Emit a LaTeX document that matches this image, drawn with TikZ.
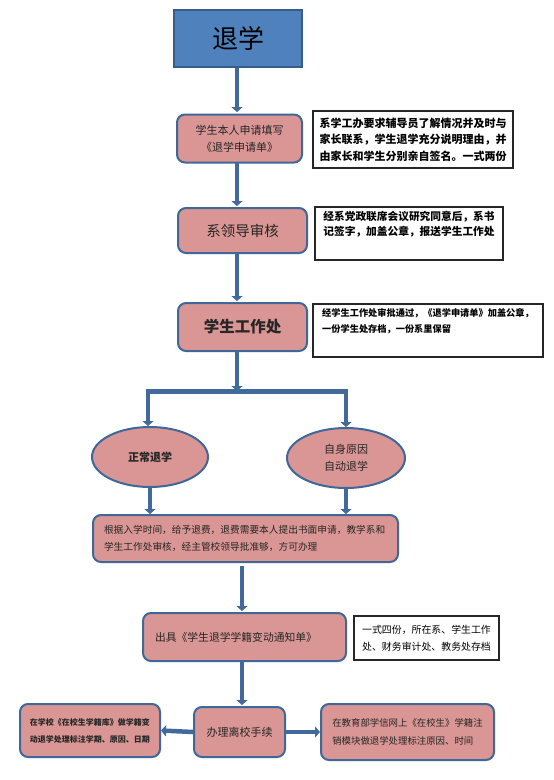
\documentclass[tikz,border=0pt]{standalone}
\usepackage{fontspec}
\setmainfont{Noto Sans CJK SC}
\usetikzlibrary{arrows.meta}
\definecolor{pinkfill}{HTML}{D99694}
\definecolor{boxline}{HTML}{3F6797}
\definecolor{titlefill}{HTML}{4F81BD}
\definecolor{titleline}{HTML}{385D8A}
\definecolor{arrowblue}{HTML}{41699C}
\definecolor{txt}{HTML}{262626}
\tikzset{
  stepbox/.style={draw=boxline, line width=2pt, fill=pinkfill, rounded corners=8pt, text=txt, inner sep=0pt},
  ellbox/.style={draw=boxline, line width=2pt, fill=pinkfill, ellipse, text=txt, inner sep=0pt, align=center},
  notebox/.style={draw=black!85, line width=1.1pt, fill=white, inner sep=0pt, align=left},
  flow/.style={draw=arrowblue, line width=4.5pt, -{Triangle[length=5pt,width=11pt]}},
  barline/.style={draw=arrowblue, line width=5pt}
}
\usetikzlibrary{shapes.geometric}
\newcommand{\fsz}[2]{\fontsize{#1}{#2}\selectfont}
\begin{document}
\begin{tikzpicture}[x=1pt,y=-1pt]
\useasboundingbox[fill=white] (0,0) rectangle (554,780);
% main steps
\node[draw=titleline, line width=1.5pt, fill=titlefill, minimum width=128pt, minimum height=57pt, inner sep=0pt, font=\fsz{26}{30}] (t) at (238,38.5) {退学};
\node[stepbox, minimum width=125pt, minimum height=48pt, align=center, font=\fsz{11}{17}] (b1) at (239.5,138.5) {学生本人申请填写\\《退学申请单》};
\node[stepbox, minimum width=129pt, minimum height=45pt, font=\fsz{14.5}{18}] (b2) at (242.5,230.5) {系领导审核};
\node[stepbox, minimum width=129pt, minimum height=48pt, font=\fsz{15.5}{18}\bfseries] (b3) at (242.5,327) {学生工作处};
\node[ellbox, minimum width=116pt, minimum height=60pt, font=\fsz{11}{17}\bfseries] (e1) at (150,457) {正常退学};
\node[ellbox, minimum width=118pt, minimum height=60pt, font=\fsz{11}{17}] (e2) at (346,458) {自身原因\\自动退学};
\node[stepbox, minimum width=305pt, minimum height=47pt, align=left, text width=283pt, font=\fsz{9.7}{17}] (b4) at (245.5,538.5) {根据入学时间，给予退费，退费需要本人提出书面申请，教学系和\\学生工作处审核，经主管校领导批准够，方可办理};
\node[stepbox, minimum width=203pt, minimum height=48pt, align=left, text width=179pt, font=\fsz{10.8}{17}] (b5) at (244.5,637) {出具《学生退学学籍变动通知单》};
\node[stepbox, minimum width=91pt, minimum height=50pt, font=\fsz{11}{17}] (b6) at (239.5,732) {办理离校手续};
\node[stepbox, minimum width=140pt, minimum height=53pt, align=left, font=\fsz{8}{17}\bfseries] (lb) at (90,730.5) {在学校《在校生学籍库》做学籍变\\动退学处理标注学期、原因、日期};
\node[stepbox, minimum width=173pt, minimum height=56pt, align=left, font=\fsz{9.4}{17.5}] (rb) at (407.5,732) {在教育部学信网上《在校生》学籍注\\销模块做退学处理标注原因、时间};
% notes
\node[notebox, minimum width=200pt, minimum height=57pt, font=\fsz{11}{16.5}\bfseries] (n1) at (413,139.5) {系学工办要求辅导员了解情况并及时与\\家长联系，学生退学充分说明理由，并\\由家长和学生分别亲自签名。一式两份};
\node[notebox, minimum width=188pt, minimum height=53pt, font=\fsz{10.7}{15}\bfseries] (n2) at (409,233.5) {经系党政联席会议研究同意后，系书\\记签字，加盖公章，报送学生工作处\\[6pt]\mbox{}};
\node[notebox, minimum width=230pt, minimum height=53pt, font=\fsz{9.2}{16}\bfseries] (n3) at (428,330.5) {经学生工作处审批通过，《退学申请单》加盖公章，\\一份学生处存档，一份系里保留\\[4pt]\mbox{}};
\node[notebox, minimum width=145pt, minimum height=44pt, font=\fsz{9.9}{17}] (n5) at (426.5,638) {一式四份，所在系、学生工作\\处、财务审计处、教务处存档};
% connectors
\coordinate (bar) at (237,391);
\draw[flow] (t.south -| 237,0) -- (237,112);
\draw[flow] (237,163) -- (237,206);
\draw[flow] (237,253) -- (237,301);
\draw[flow] (237,351) -- (bar);
\draw[barline] (148,391) -- (346,391);
\draw[flow] (148,389) -- (e1.north -| 148,0);
\draw[flow] (346,389) -- (e2.north);
\draw[flow] (e1.south) -- (e1.south |- b4.north);
\draw[flow] (e2.south) -- (e2.south |- b4.north);
\draw[flow] (242,566) -- (242,611);
\draw[flow] (242,661) -- (242,705);
\draw[flow] (b6.west) -- (lb.east);
\draw[flow] (b6.east) -- (rb.west);
\end{tikzpicture}
\end{document}
